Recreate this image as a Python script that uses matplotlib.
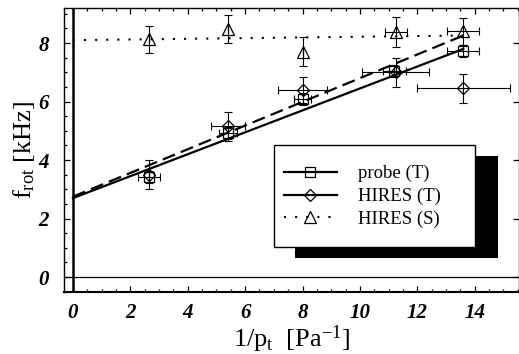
import matplotlib
matplotlib.use('Agg')
import matplotlib.pyplot as plt
from matplotlib.lines import Line2D
from matplotlib.patches import Rectangle

plt.rcParams['font.family'] = ['Liberation Serif', 'DejaVu Serif']
plt.rcParams['mathtext.fontset'] = 'custom'
plt.rcParams['mathtext.rm'] = 'Liberation Serif'
plt.rcParams['mathtext.it'] = 'Liberation Serif:italic'
plt.rcParams['lines.scale_dashes'] = False

# rotation frequency vs. inverse pressure
probe_x = [2.65, 5.4, 8.0, 11.2, 13.6]
probe_y = [3.42, 4.92, 6.1, 7.05, 7.72]
probe_xerr = [0.38, 0.3, 0.3, 0.4, 0.56]
probe_yerr = [0.2, 0.2, 0.2, 0.2, 0.2]

hires_t_x = [2.65, 5.4, 8.0, 11.25, 13.6]
hires_t_y = [3.5, 5.15, 6.4, 7.0, 6.45]
hires_t_xerr = [0.0, 0.6, 0.85, 1.17, 1.62]
hires_t_yerr = [0.5, 0.5, 0.45, 0.5, 0.5]

hires_s_x = [2.65, 5.4, 8.0, 11.25, 13.6]
hires_s_y = [8.13, 8.48, 7.7, 8.38, 8.4]
hires_s_xerr = [0.0, 0.0, 0.0, 0.38, 0.56]
hires_s_yerr = [0.47, 0.48, 0.5, 0.5, 0.45]

# linear fits, end points
fit_x = [0.0, 13.6]
probe_fit = [2.7, 7.8]
hires_t_fit = [2.75, 8.26]
hires_s_fit = [8.1, 8.26]

fig = plt.figure(figsize=(5.19, 3.54), dpi=100)
ax = fig.add_axes([64/519, 1-292/354, 455/519, 284/354])

ax.axvline(0, color='k', lw=1.8, zorder=1)
ax.axhline(0, color='k', lw=0.9, zorder=1)

ax.plot(fit_x, probe_fit, color='k', lw=1.6, zorder=3)
ax.plot(fit_x, hires_t_fit, color='k', lw=1.6, dashes=(9.5, 4.5), zorder=3)
ax.plot(fit_x, hires_s_fit, color='k', lw=1.5, dashes=(1.5, 6.5), zorder=3)

err_kw = dict(fmt='none', ecolor='k', elinewidth=0.8, capsize=2.6, capthick=0.8, zorder=4)
ax.errorbar(probe_x, probe_y, xerr=probe_xerr, yerr=probe_yerr, **err_kw)
ax.errorbar(hires_t_x, hires_t_y, xerr=hires_t_xerr, yerr=hires_t_yerr, **err_kw)
ax.errorbar(hires_s_x, hires_s_y, xerr=hires_s_xerr, yerr=hires_s_yerr, **err_kw)

mk_kw = dict(ls='none', mfc='none', mec='k', mew=0.9, zorder=5)
ax.plot(probe_x, probe_y, marker='s', ms=7, **mk_kw)
ax.plot(hires_t_x, hires_t_y, marker='D', ms=6.5, **mk_kw)
ax.plot(hires_s_x, hires_s_y, marker='^', ms=8, **mk_kw)

ax.set_xlim(-0.31, 15.54)
ax.set_ylim(-0.51, 9.2)
ax.set_xticks(range(0, 16, 2))
ax.set_yticks(range(0, 10, 2))
ax.set_xticks([i * 0.5 for i in range(0, 32)], minor=True)
ax.set_yticks([i * 0.5 for i in range(-1, 19)], minor=True)
ax.tick_params(which='both', direction='in', top=True, right=True, width=0.9)
ax.tick_params(which='major', length=4.5)
ax.tick_params(which='minor', length=2.5, right=False)
ax.tick_params(axis='x', pad=8)
ax.tick_params(axis='y', pad=11)
for lab in ax.get_xticklabels() + ax.get_yticklabels():
    lab.set_fontsize(15)
    lab.set_style('italic')
    lab.set_fontweight('bold')

for s in ax.spines.values():
    s.set_linewidth(1.0)
ax.spines['bottom'].set_linewidth(1.5)

ax.set_xlabel(r'1/p$_{\rm t}$  [Pa$^{-1}$]', fontsize=19, labelpad=0)
ax.set_ylabel(r'f$_{\rm rot}$ [kHz]', fontsize=19, labelpad=1)

# legend box with drop shadow
ax.add_patch(Rectangle(((295-64)/455, (292-258)/284), 203/455, 102/284,
                       transform=ax.transAxes, fc='k', ec='none', zorder=6))
ax.add_patch(Rectangle(((274-64)/455, (292-247)/284), 201/455, 102/284,
                       transform=ax.transAxes, fc='white', ec='k', lw=1.0, zorder=7))

handles = [
    Line2D([], [], color='k', lw=1.6, marker='s', ms=7, mfc='none', mec='k', mew=0.9),
    Line2D([], [], color='k', lw=1.6, marker='D', ms=6.5, mfc='none', mec='k', mew=0.9),
    Line2D([], [], color='k', lw=1.5, dashes=(1.5, 6.5), marker='^', ms=8, mfc='none',
           mec='k', mew=0.9),
]
leg = ax.legend(handles, ['probe (T)', 'HIRES (T)', 'HIRES (S)'],
                loc='center left', bbox_to_anchor=((284-64)/455, (292-196.5)/284),
                frameon=False, fontsize=13.5, handlelength=2.8, handletextpad=1.15,
                labelspacing=0.3, borderpad=0, borderaxespad=0, numpoints=1)
leg.set_zorder(8)

fig.savefig('out.png', dpi=100)
